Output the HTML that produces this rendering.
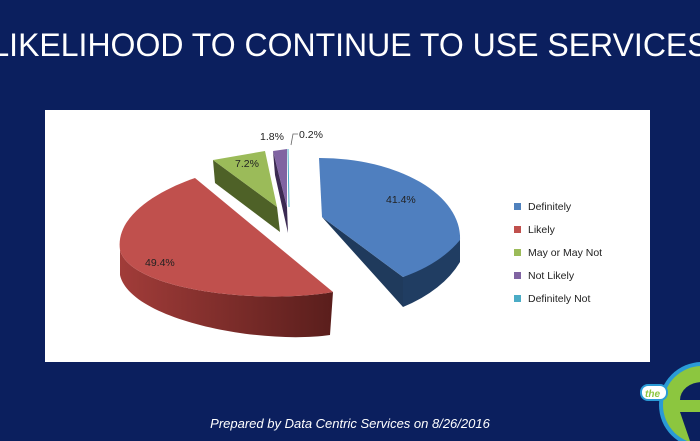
<!DOCTYPE html>
<html><head><style>
body{margin:0;width:700px;height:441px;background:#0b1f5e;overflow:hidden;position:relative;font-family:"Liberation Sans",sans-serif}
.t{position:absolute;left:-10px;top:27px;width:720px;text-align:center;color:#fff;font-size:32px;white-space:nowrap}
.p{position:absolute;left:45px;top:110px;width:605px;height:252px;background:#fff}
.f{position:absolute;top:416px;left:0;width:700px;text-align:center;color:#fff;font-style:italic;font-size:13px}
</style></head><body>
<div class="t">LIKELIHOOD TO CONTINUE TO USE SERVICES</div>
<div class="p"></div>
<svg width="700" height="441" style="position:absolute;left:0;top:0">
<defs>
<linearGradient id="rs" x1="0" x2="1"><stop offset="0" stop-color="#a13c39"/><stop offset="1" stop-color="#5a1e1c"/></linearGradient>
</defs>
<!-- blue -->
<path d="M322 217 L403 307 L403 277 Z" fill="#1f3a5c"/>
<path d="M403 277 A140 92 0 0 0 460 235 L460 262 A140 92 0 0 1 403 307 Z" fill="#203d62"/>
<path d="M319 158 A140 80 0 0 1 460 240 A140 92 0 0 1 403 277 L322 217 Z" fill="#4f7fbf"/>
<!-- red -->
<path d="M120 250 L120 275 C130 320 260 345 330 335 L333 292 C260 305 130 290 120 250 Z" fill="url(#rs)"/>
<path d="M195 178 L333 292 C260 305 130 290 120 250 C115 215 160 190 195 178 Z" fill="#c0504d"/>
<!-- green -->
<path d="M213 160 L277 207 L280 232 L215 183 Z" fill="#4e6127"/>
<path d="M213 160 L265 151 L277 207 Z" fill="#9bbb59"/>
<!-- purple -->
<path d="M273 151 L287 207 L288 233 L275 175 Z" fill="#3b2a52"/>
<path d="M273 151 L287 149 L287 207 Z" fill="#8064a2"/>
<path d="M288 149 L289 207" stroke="#4bacc6" stroke-width="1"/>
<path d="M291 145 L293 134 L298 134" stroke="#666" fill="none" stroke-width="0.8"/>
<g font-size="10.5" fill="#222">
<text x="386" y="203">41.4%</text>
<text x="145" y="266">49.4%</text>
<text x="235" y="167">7.2%</text>
<text x="260" y="140">1.8%</text>
<text x="299" y="138">0.2%</text>
</g>
<g font-size="10.5" fill="#222">
<rect x="514" y="203" width="7" height="7" fill="#4f81bd"/><text x="528" y="210">Definitely</text>
<rect x="514" y="226" width="7" height="7" fill="#c0504d"/><text x="528" y="233">Likely</text>
<rect x="514" y="249" width="7" height="7" fill="#9bbb59"/><text x="528" y="256">May or May Not</text>
<rect x="514" y="272" width="7" height="7" fill="#8064a2"/><text x="528" y="279">Not Likely</text>
<rect x="514" y="295" width="7" height="7" fill="#4bacc6"/><text x="528" y="302">Definitely Not</text>
</g>
<!-- logo -->
<circle cx="702" cy="405" r="43" fill="#2a9ad6"/>
<circle cx="702" cy="405" r="39" fill="#8cc63f"/>
<path d="M680 400 A22 18 0 0 1 724 400 Z" fill="#0b1f5e"/>
<path d="M680 412 L700 412 L700 441 L690 441 Z" fill="#0b1f5e"/>
<rect x="641" y="385" width="26" height="15" rx="7" fill="#fff" stroke="#2a9ad6" stroke-width="2"/>
<text x="645" y="397" font-size="10" font-style="italic" font-weight="bold" fill="#8cc63f">the</text>
</svg>
<div class="f">Prepared by Data Centric Services on 8/26/2016</div>
</body></html>
